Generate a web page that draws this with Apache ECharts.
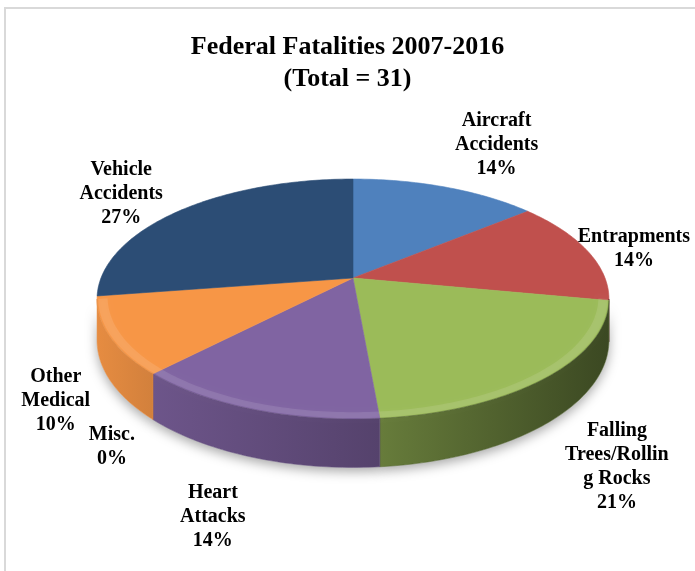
<!DOCTYPE html>
<html>
<head>
<meta charset="utf-8">
<script src="https://cdn.jsdelivr.net/npm/echarts@6/dist/echarts.min.js"></script>
<style>
html,body{margin:0;padding:0;background:#ffffff;}
#main{width:695px;height:571px;}
</style>
</head>
<body>
<div id="main"></div>
<script>
// ---------- data ----------
const categories = ['Aircraft Accidents', 'Entrapments', 'Falling Trees/Rolling Rocks', 'Heart Attacks', 'Misc.', 'Other Medical', 'Vehicle Accidents'];
const labelTexts = ['Aircraft\nAccidents', 'Entrapments', 'Falling\nTrees/Rollin\ng Rocks', 'Heart\nAttacks', 'Misc.', 'Other\nMedical', 'Vehicle\nAccidents'];
const values = [14, 14, 20.6, 13.6, 0, 10.4, 27.4];
const titleText = 'Federal Fatalities 2007-2016\n(Total = 31)';

// ---------- style ----------
const colors = ['#4F81BD', '#C0504D', '#9BBB59', '#8064A2', '#4BACC6', '#F79646', '#2C4D75'];
const G = { cx: 353, cy: 278, A: 252, B: 116.3, k: 0.175, D: 40 };
const PHI_S = Math.acos(-G.k) * 180 / Math.PI;
const LABEL_FONT = 'bold 20px "Liberation Serif"';
const LABEL_LH = 24;
const LABEL_GAP = 20;
const LABEL_DY = 8;

const total = values.reduce((a, b) => a + b, 0);
const cum = [];
values.reduce((acc, v, i) => { cum[i] = acc; return acc + v; }, 0);

function proj(phiDeg, rho) {
  const p = phiDeg * Math.PI / 180;
  const s = Math.sin(p), c = Math.cos(p);
  const w = 1 + G.k * rho * c;
  return [G.cx + G.A * rho * s / w, G.cy - G.B * rho * c / w];
}
function depthAt(phiDeg) {
  const c = Math.cos(phiDeg * Math.PI / 180);
  return G.D / (1 + G.k * c);
}
function hexToRgb(h) {
  const n = parseInt(h.slice(1), 16);
  return [(n >> 16) & 255, (n >> 8) & 255, n & 255];
}
function shade(hex, d) {
  const c = hexToRgb(hex).map(x => Math.round(x * (1 - d)));
  return 'rgb(' + c.join(',') + ')';
}
function darkness(phi) {
  return Math.max(0.07, 0.62 - (phi - 100) * 0.0038);
}
const mctx = document.createElement('canvas').getContext('2d');
function measure(text) {
  mctx.font = LABEL_FONT;
  const lines = text.split('\n');
  let w = 0;
  lines.forEach(l => { w = Math.max(w, mctx.measureText(l).width); });
  return { w: w, h: lines.length * LABEL_LH };
}

function sideRange(start, end) {
  return [Math.max(start, PHI_S), Math.min(end, 360 - PHI_S)];
}
function sidePoints(a, b) {
  const top = [], bot = [];
  const m = Math.max(2, Math.ceil((b - a) / 1));
  for (let j = 0; j <= m; j++) {
    const ph = a + (b - a) * j / m;
    const p = proj(ph, 1);
    top.push(p);
    bot.push([p[0], p[1] + depthAt(ph)]);
  }
  return top.concat(bot.reverse());
}

function renderShadow(params, api) {
  const i = params.dataIndex;
  const v = api.value(0);
  const start = cum[i] / total * 360, end = (cum[i] + v) / total * 360;
  const children = [];
  const r = sideRange(start, end);
  if (v > 0 && r[1] > r[0]) {
    children.push({
      type: 'polygon',
      shape: { points: sidePoints(r[0], r[1]) },
      style: { fill: '#ffffff', shadowBlur: 12, shadowOffsetY: 4, shadowColor: 'rgba(0,0,0,0.35)' }
    });
  }
  return { type: 'group', children: children };
}

function renderSlice(params, api) {
  const i = params.dataIndex;
  const v = api.value(0);
  const start = cum[i] / total * 360, end = (cum[i] + v) / total * 360;
  const color = colors[i];
  const children = [];
  if (v > 0) {
    // top face
    const pts = [proj(0, 0)];
    const n = Math.max(2, Math.ceil(end - start));
    for (let j = 0; j <= n; j++) pts.push(proj(start + (end - start) * j / n, 1));
    children.push({ type: 'polygon', shape: { points: pts }, style: { fill: color, stroke: color, lineWidth: 0.6 } });
    // side
    const r = sideRange(start, end);
    if (r[1] > r[0]) {
      children.push({
        type: 'polygon',
        shape: { points: sidePoints(r[0], r[1]) },
        style: {
          fill: {
            type: 'linear', x: 0, y: 0, x2: 1, y2: 0,
            colorStops: [
              { offset: 0, color: shade(color, darkness(r[1])) },
              { offset: 1, color: shade(color, darkness(r[0])) }
            ]
          },
          stroke: shade(color, darkness((r[0] + r[1]) / 2)), lineWidth: 0.5
        }
      });
      // soft bevel highlight near front rim
      const ring = [];
      const m = Math.max(2, Math.ceil(r[1] - r[0]));
      for (let j = 0; j <= m; j++) ring.push(proj(r[0] + (r[1] - r[0]) * j / m, 0.995));
      for (let j = m; j >= 0; j--) ring.push(proj(r[0] + (r[1] - r[0]) * j / m, 0.96));
      children.push({
        type: 'polygon', shape: { points: ring },
        style: { fill: 'rgba(255,255,255,0.10)', shadowBlur: 4, shadowColor: 'rgba(255,255,255,0.25)' }
      });
    }
  }
  // label
  const mid = (start + end) / 2;
  const pt = proj(mid, 1);
  const P = pt.slice();
  if (mid > PHI_S && mid < 360 - PHI_S) P[1] += depthAt(mid);
  let dx = pt[0] - G.cx, dy = pt[1] - G.cy;
  const len = Math.hypot(dx, dy); dx /= len; dy /= len;
  const text = labelTexts[i] + '\n' + Math.round(v / total * 100) + '%';
  const sz = measure(text);
  const tx = Math.abs(dx) > 1e-6 ? (sz.w / 2) / Math.abs(dx) : Infinity;
  const ty = Math.abs(dy) > 1e-6 ? (sz.h / 2) / Math.abs(dy) : Infinity;
  const t = Math.min(tx, ty) + LABEL_GAP;
  let lx = P[0] + dx * t, ly = P[1] + dy * t + LABEL_DY;
  lx = Math.min(Math.max(lx, 8 + sz.w / 2), 690 - sz.w / 2);
  children.push({
    type: 'text', x: lx, y: ly, z2: 100,
    style: {
      text: text, fill: '#000000', font: LABEL_FONT,
      fontFamily: '"Liberation Serif"', fontWeight: 'bold', fontSize: 20,
      lineHeight: LABEL_LH, align: 'center', verticalAlign: 'middle',
      textAlign: 'center', textVerticalAlign: 'middle'
    }
  });
  return { type: 'group', children: children };
}

const seriesData = values.map((v, i) => ({ name: categories[i], value: v }));

const chart = echarts.init(document.getElementById('main'), null, { renderer: 'canvas' });
chart.setOption({
  backgroundColor: '#ffffff',
  animation: false,
  title: {
    text: titleText,
    left: 'center',
    top: 26,
    textStyle: { fontFamily: '"Liberation Serif"', fontWeight: 'bold', fontSize: 26, lineHeight: 32, color: '#000000' }
  },
  graphic: [{
    type: 'rect', z: -10,
    shape: { x: 5, y: 8, width: 720, height: 620 },
    style: { fill: 'none', stroke: '#D9D9D9', lineWidth: 2 }
  }],
  series: [
    { type: 'custom', name: 'shadow', coordinateSystem: 'none', z: 1, silent: true, renderItem: renderShadow, data: seriesData },
    { type: 'custom', name: 'Federal Fatalities', coordinateSystem: 'none', z: 2, renderItem: renderSlice, data: seriesData }
  ]
});
</script>
</body>
</html>
